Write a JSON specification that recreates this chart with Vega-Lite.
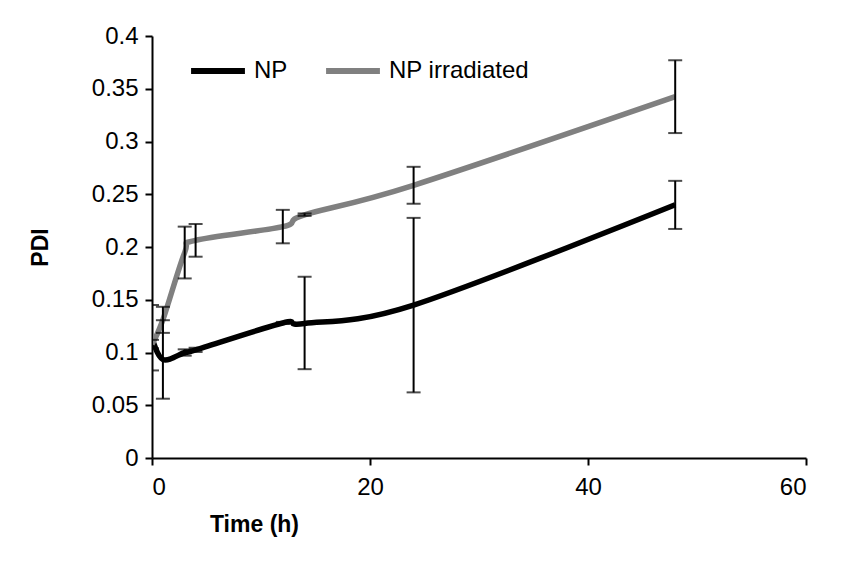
{
  "$schema": "https://vega.github.io/schema/vega-lite/v6.json",
  "width": 654,
  "height": 422,
  "autosize": "none",
  "padding": {"left": 152, "top": 36, "right": 61, "bottom": 122},
  "background": "white",
  "config": {
    "font": "Liberation Sans",
    "view": {"stroke": null},
    "axis": {
      "grid": false,
      "domainColor": "black",
      "domainWidth": 2,
      "tickColor": "black",
      "tickWidth": 2,
      "tickSize": 7,
      "labelFont": "Liberation Sans",
      "labelFontSize": 24,
      "labelColor": "black",
      "titleFont": "Liberation Sans",
      "titleFontSize": 23,
      "titleFontWeight": "bold",
      "titleColor": "black"
    }
  },
  "data": {
    "values": [
      {"series": "NP", "t": 0, "pdi": 0.114, "lo": 0.083, "hi": 0.145},
      {"series": "NP", "t": 1, "pdi": 0.0934, "lo": 0.0562, "hi": 0.1306},
      {"series": "NP", "t": 3, "pdi": 0.1, "lo": 0.097, "hi": 0.103},
      {"series": "NP", "t": 4, "pdi": 0.1025, "lo": 0.1005, "hi": 0.1045},
      {"series": "NP", "t": 12, "pdi": 0.128, "lo": 0.127, "hi": 0.129},
      {"series": "NP", "t": 14, "pdi": 0.1275, "lo": 0.0842, "hi": 0.1718},
      {"series": "NP", "t": 24, "pdi": 0.145, "lo": 0.0622, "hi": 0.2276},
      {"series": "NP", "t": 48, "pdi": 0.24, "lo": 0.2171, "hi": 0.2627},
      {"series": "NP irradiated", "t": 0, "pdi": 0.108, "lo": 0.104, "hi": 0.112},
      {"series": "NP irradiated", "t": 1, "pdi": 0.131, "lo": 0.1186, "hi": 0.1433},
      {"series": "NP irradiated", "t": 3, "pdi": 0.1948, "lo": 0.1702, "hi": 0.2193},
      {"series": "NP irradiated", "t": 4, "pdi": 0.2063, "lo": 0.1908, "hi": 0.2218},
      {"series": "NP irradiated", "t": 12, "pdi": 0.2193, "lo": 0.2035, "hi": 0.2352},
      {"series": "NP irradiated", "t": 14, "pdi": 0.2305, "lo": 0.2295, "hi": 0.2318},
      {"series": "NP irradiated", "t": 24, "pdi": 0.2585, "lo": 0.241, "hi": 0.276},
      {"series": "NP irradiated", "t": 48, "pdi": 0.3425, "lo": 0.308, "hi": 0.377}
    ]
  },
  "layer": [
    {
      "mark": {"type": "line", "interpolate": "cardinal", "strokeWidth": 5.5, "clip": true},
      "encoding": {
        "x": {
          "field": "t", "type": "quantitative",
          "scale": {"domain": [0, 60], "nice": false},
          "axis": {"values": [0, 20, 40, 60], "title": "Time (h)", "labelPadding": 10, "titleX": 102, "titleY": 66, "titleBaseline": "middle", "titleAlign": "center"}
        },
        "y": {
          "field": "pdi", "type": "quantitative",
          "scale": {"domain": [0, 0.4], "nice": false},
          "axis": {"values": [0, 0.05, 0.1, 0.15, 0.2, 0.25, 0.3, 0.35, 0.4], "format": ".2~f", "title": "PDI", "labelPadding": 7, "titleX": -112, "titleY": 211, "titleAngle": -90, "titleBaseline": "middle", "titleAlign": "center"}
        },
        "color": {
          "field": "series", "type": "nominal",
          "scale": {"domain": ["NP", "NP irradiated"], "range": ["#000000", "#808080"]},
          "legend": {
            "title": null,
            "orient": "none",
            "legendX": 36,
            "legendY": 5,
            "direction": "horizontal",
            "columns": 2,
            "symbolType": "stroke",
            "symbolStrokeWidth": 6,
            "symbolSize": 2900,
            "labelFontSize": 24,
            "labelColor": "black",
            "labelFont": "Liberation Sans",
            "columnPadding": 26,
            "labelOffset": 6,
            "labelBaseline": "middle"
          }
        }
      }
    },
    {
      "mark": {"type": "rule", "color": "black", "strokeWidth": 2, "clip": true},
      "encoding": {
        "x": {"field": "t", "type": "quantitative"},
        "y": {"field": "lo", "type": "quantitative", "title": "PDI"},
        "y2": {"field": "hi"}
      }
    },
    {
      "mark": {"type": "tick", "orient": "horizontal", "color": "black", "thickness": 2, "size": 14, "clip": true},
      "encoding": {
        "x": {"field": "t", "type": "quantitative"},
        "y": {"field": "lo", "type": "quantitative", "title": "PDI"}
      }
    },
    {
      "mark": {"type": "tick", "orient": "horizontal", "color": "black", "thickness": 2, "size": 14, "clip": true},
      "encoding": {
        "x": {"field": "t", "type": "quantitative"},
        "y": {"field": "hi", "type": "quantitative", "title": "PDI"}
      }
    }
  ]
}
